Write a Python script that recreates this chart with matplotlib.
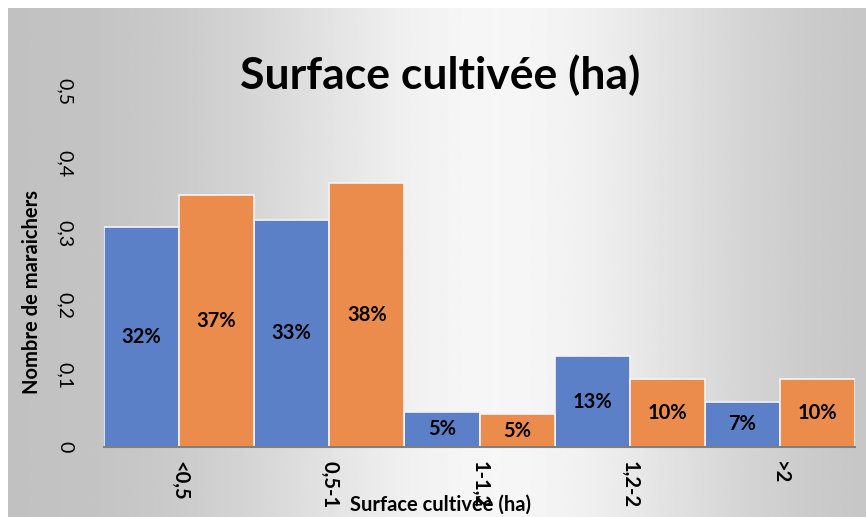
import matplotlib

matplotlib.use("Agg")
import matplotlib.pyplot as plt
import numpy as np

plt.rcParams["font.family"] = ["Lato", "DejaVu Sans"]

CATEGORIES = ["<0,5", "0,5-1", "1-1,2", "1,2-2", ">2"]
SERIES_A = [0.31, 0.32, 0.05, 0.128, 0.064]
SERIES_B = [0.355, 0.372, 0.046, 0.096, 0.096]
LABELS_A = ["32%", "33%", "5%", "13%", "7%"]
LABELS_B = ["37%", "38%", "5%", "10%", "10%"]
Y_TICKS = [0, 0.1, 0.2, 0.3, 0.4, 0.5]
Y_TICK_LABELS = ["0", "0,1", "0,2", "0,3", "0,4", "0,5"]

BLUE = "#5B80C8"
ORANGE = "#EB8C4C"

fig = plt.figure(figsize=(8.66, 5.17), dpi=100)
fig.patch.set_facecolor("white")

# gradient background (grey - light centre - grey)
bg = fig.add_axes([8 / 866, 0, 1 - 8 / 866, 1 - 8 / 517], zorder=0)
xs = np.linspace(0, 1, 400)
vals = 0.75 + 0.215 * np.exp(-((xs - 0.57) / 0.3) ** 2)
bg.imshow(np.tile(vals, (10, 1)), cmap="gray", vmin=0, vmax=1,
          aspect="auto", extent=[0, 1, 0, 1])
bg.set_axis_off()

ax = fig.add_axes([104 / 866, (517 - 447) / 517, 751 / 866, 355 / 517], zorder=1)
ax.patch.set_alpha(0)

x = np.arange(len(CATEGORIES))
w = 0.5
bars_a = ax.bar(x - w / 2, SERIES_A, w, color=BLUE, edgecolor="#f4f4f4", linewidth=1.2)
bars_b = ax.bar(x + w / 2, SERIES_B, w, color=ORANGE, edgecolor="#f4f4f4", linewidth=1.2)

for bars, labels in [(bars_a, LABELS_A), (bars_b, LABELS_B)]:
    for b, lab in zip(bars, labels):
        ax.text(b.get_x() + b.get_width() / 2, b.get_height() / 2, lab,
                ha="center", va="center", fontsize=14.5, fontweight="bold", color="black")

ax.set_xlim(-0.5, len(CATEGORIES) - 0.5)
ax.set_ylim(0, 0.5)
ax.set_yticks(Y_TICKS)
ax.set_yticklabels(Y_TICK_LABELS, rotation=-90, fontsize=14, va="center")
ax.set_xticks(x)
ax.set_xticklabels(CATEGORIES, rotation=-90, fontsize=14.5, fontweight="bold", va="top")
ax.tick_params(axis="both", length=0)
ax.tick_params(axis="y", pad=22)
ax.tick_params(axis="x", pad=10)

for side in ["top", "right", "left"]:
    ax.spines[side].set_visible(False)
ax.spines["bottom"].set_color("#7f7f7f")
ax.spines["bottom"].set_linewidth(1.5)

fig.text(32 / 866, 1 - 292 / 517, "Nombre de maraichers", rotation=90,
         ha="center", va="center", fontsize=14.5, fontweight="bold")
fig.text(440 / 866, 1 - 505 / 517, "Surface cultivée (ha)",
         ha="center", va="center", fontsize=14.5, fontweight="bold")
fig.text(440 / 866, 1 - 75 / 517, "Surface cultivée (ha)",
         ha="center", va="center", fontsize=32, fontweight="bold")

fig.savefig("out.png", dpi=100)
